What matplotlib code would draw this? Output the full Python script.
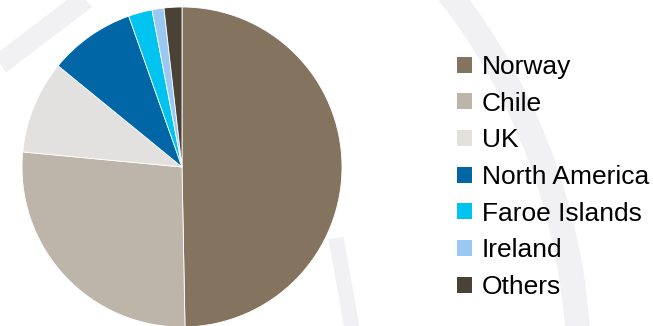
import matplotlib.pyplot as plt
from matplotlib.patches import Arc, Patch

# data
regions = ['Norway', 'Chile', 'UK', 'North America', 'Faroe Islands', 'Ireland', 'Others']
shares = [49.7, 26.8, 9.4, 8.7, 2.4, 1.2, 1.8]
colors = ['#83735f', '#bdb5aa', '#e3e1df', '#0066a6', '#00c3ef', '#9bc8f3', '#4b4237']

plt.rcParams['font.family'] = ['Liberation Sans', 'DejaVu Sans']

W, H = 653, 326
fig = plt.figure(figsize=(W / 100, H / 100), dpi=100)
fig.patch.set_facecolor('white')

# faint watermark arcs behind everything (pixel coords, y down)
bg = fig.add_axes([0, 0, 1, 1])
bg.set_xlim(0, W)
bg.set_ylim(H, 0)
bg.axis('off')
wm = '#f1f1f3'
bg.add_patch(Arc((-38, 372), 2 * 617, 2 * 617, theta1=-60, theta2=0,
                 color=wm, lw=18))
bg.plot([0, 92], [64, -6], color=wm, lw=15, solid_capstyle='butt')
bg.plot([336, 352], [238, 328], color=wm, lw=11, solid_capstyle='butt')

# pie, centred at (182, 167) px with radius 160 px
ax = fig.add_axes([22 / W, -1 / H, 320 / W, 320 / H])
ax.set_facecolor('none')
wedges, _ = ax.pie(shares, colors=colors, startangle=90, counterclock=False,
                   wedgeprops=dict(edgecolor='white', linewidth=0.6))
ax.set_xlim(-1, 1)
ax.set_ylim(-1, 1)
ax.set_aspect('equal')

handles = [Patch(facecolor=c, edgecolor='none') for c in colors]
fig.legend(handles, regions, loc='upper left',
           bbox_to_anchor=(457 / W, 1 - 55 / H), frameon=False,
           fontsize=19, handlelength=0.55, handleheight=0.55,
           handletextpad=0.38, labelspacing=0.48, borderpad=0, borderaxespad=0)

fig.savefig('out.png', dpi=100, facecolor='white')
